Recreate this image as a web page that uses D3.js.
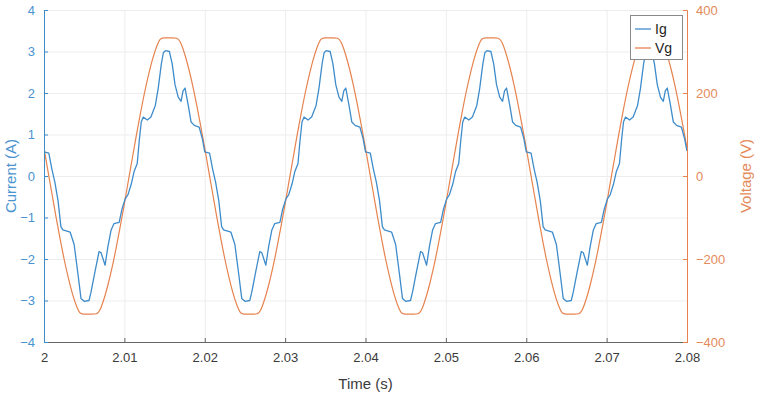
<!DOCTYPE html>
<html>
<head>
<meta charset="utf-8">
<script src="https://cdn.jsdelivr.net/npm/d3@7"></script>
<style>
	body { margin: 0; background: #fff; }
	svg { display: block; font-family: "Liberation Sans", Arial, sans-serif; }
	.grid line { stroke: #ededed; stroke-width: 1; }
</style>
</head>
<body>
<svg id="chart" width="761" height="400"></svg>
<script>
'use strict';

// time axis ticks (s)
const timeTicks = [2, 2.01, 2.02, 2.03, 2.04, 2.05, 2.06, 2.07, 2.08];
const currentTicks = [-4, -3, -2, -1, 0, 1, 2, 3, 4];
const voltageTicks = [-400, -200, 0, 200, 400];

// grid current Ig: time in ms after t = 2 s, value in A
const igTime = [
	0, 0.6, 1.0, 1.35, 1.75, 2.1, 2.35, 3.25, 3.75, 4.25, 4.6, 5.0, 5.6, 5.85, 6.35, 6.85, 7.1, 7.6, 7.95, 8.35,
	8.7, 9.35, 9.7, 10.1, 10.45, 10.85, 11.2, 11.6, 11.85, 12.1, 12.35, 12.85, 13.3, 13.85, 14.2, 14.6, 14.85, 15.1, 15.6, 15.95,
	16.3, 16.7, 17.05, 17.3, 17.55, 17.95, 18.3, 18.7, 19.3, 19.7,
	20, 20.6, 21.0, 21.35, 21.75, 22.1, 22.35, 23.25, 23.75, 24.25, 24.6, 25.0, 25.6, 25.85, 26.35, 26.85, 27.1, 27.6, 27.95, 28.35,
	28.7, 29.35, 29.7, 30.1, 30.45, 30.85, 31.2, 31.6, 31.85, 32.1, 32.35, 32.85, 33.3, 33.85, 34.2, 34.6, 34.85, 35.1, 35.6, 35.95,
	36.3, 36.7, 37.05, 37.3, 37.55, 37.95, 38.3, 38.7, 39.3, 39.7,
	40, 40.6, 41.0, 41.35, 41.75, 42.1, 42.35, 43.25, 43.75, 44.25, 44.6, 45.0, 45.6, 45.85, 46.35, 46.85, 47.1, 47.6, 47.95, 48.35,
	48.7, 49.35, 49.7, 50.1, 50.45, 50.85, 51.2, 51.6, 51.85, 52.1, 52.35, 52.85, 53.3, 53.85, 54.2, 54.6, 54.85, 55.1, 55.6, 55.95,
	56.3, 56.7, 57.05, 57.3, 57.55, 57.95, 58.3, 58.7, 59.3, 59.7,
	60, 60.6, 61.0, 61.35, 61.75, 62.1, 62.35, 63.25, 63.75, 64.25, 64.6, 65.0, 65.6, 65.85, 66.35, 66.85, 67.1, 67.6, 67.95, 68.35,
	68.7, 69.35, 69.7, 70.1, 70.45, 70.85, 71.2, 71.6, 71.85, 72.1, 72.35, 72.85, 73.3, 73.85, 74.2, 74.6, 74.85, 75.1, 75.6, 75.95,
	76.3, 76.7, 77.05, 77.3, 77.55, 77.95, 78.3, 78.7, 79.3, 79.7, 80
];
const igValue = [
	0.58, 0.55, 0.15, -0.15, -0.6, -1.22, -1.3, -1.35, -1.65, -2.4, -2.95, -3.02, -3.0, -2.8, -2.3, -1.82, -1.85, -2.15, -1.7, -1.3,
	-1.15, -1.12, -0.8, -0.55, -0.45, -0.2, 0.1, 0.3, 0.85, 1.3, 1.42, 1.35, 1.42, 1.7, 2.1, 2.7, 2.97, 3.02, 3.0, 2.7,
	2.2, 1.9, 1.8, 2.05, 2.12, 1.7, 1.3, 1.22, 1.18, 0.9,
	0.58, 0.55, 0.15, -0.15, -0.6, -1.22, -1.3, -1.35, -1.65, -2.4, -2.95, -3.02, -3.0, -2.8, -2.3, -1.82, -1.85, -2.15, -1.7, -1.3,
	-1.15, -1.12, -0.8, -0.55, -0.45, -0.2, 0.1, 0.3, 0.85, 1.3, 1.42, 1.35, 1.42, 1.7, 2.1, 2.7, 2.97, 3.02, 3.0, 2.7,
	2.2, 1.9, 1.8, 2.05, 2.12, 1.7, 1.3, 1.22, 1.18, 0.9,
	0.58, 0.55, 0.15, -0.15, -0.6, -1.22, -1.3, -1.35, -1.65, -2.4, -2.95, -3.02, -3.0, -2.8, -2.3, -1.82, -1.85, -2.15, -1.7, -1.3,
	-1.15, -1.12, -0.8, -0.55, -0.45, -0.2, 0.1, 0.3, 0.85, 1.3, 1.42, 1.35, 1.42, 1.7, 2.1, 2.7, 2.97, 3.02, 3.0, 2.7,
	2.2, 1.9, 1.8, 2.05, 2.12, 1.7, 1.3, 1.22, 1.18, 0.9,
	0.58, 0.55, 0.15, -0.15, -0.6, -1.22, -1.3, -1.35, -1.65, -2.4, -2.95, -3.02, -3.0, -2.8, -2.3, -1.82, -1.85, -2.15, -1.7, -1.3,
	-1.15, -1.12, -0.8, -0.55, -0.45, -0.2, 0.1, 0.3, 0.85, 1.3, 1.42, 1.35, 1.42, 1.7, 2.1, 2.7, 2.97, 3.02, 3.0, 2.7,
	2.2, 1.9, 1.8, 2.05, 2.12, 1.7, 1.3, 1.22, 1.18, 0.9, 0.6
];

// grid voltage Vg: one sample every 0.5 ms from t = 2 s, value in V
const vgStepMs = 0.5;
const vgValue = [
	67, 11, -44, -99, -151, -200, -243, -281, -311, -330, -333, -333, -333, -332, -321, -294, -259, -218, -171, -120,
	-67, -11, 44, 99, 151, 200, 243, 281, 311, 330, 333, 333, 333, 332, 321, 294, 259, 218, 171, 120,
	67, 11, -44, -99, -151, -200, -243, -281, -311, -330, -333, -333, -333, -332, -321, -294, -259, -218, -171, -120,
	-67, -11, 44, 99, 151, 200, 243, 281, 311, 330, 333, 333, 333, 332, 321, 294, 259, 218, 171, 120,
	67, 11, -44, -99, -151, -200, -243, -281, -311, -330, -333, -333, -333, -332, -321, -294, -259, -218, -171, -120,
	-67, -11, 44, 99, 151, 200, 243, 281, 311, 330, 333, 333, 333, 332, 321, 294, 259, 218, 171, 120,
	67, 11, -44, -99, -151, -200, -243, -281, -311, -330, -333, -333, -333, -332, -321, -294, -259, -218, -171, -120,
	-67, -11, 44, 99, 151, 200, 243, 281, 311, 330, 333, 333, 333, 332, 321, 294, 259, 218, 171, 120,
	67
];

const blue = "#3f8ccb";
const orange = "#e6834f";
const blueText = "#4a93cf";
const orangeText = "#e58a5a";

let svg = d3.select("#chart");
let plotL = 44, plotR = 687, plotT = 10, plotB = 342;

let x = d3.scaleLinear().domain([2, 2.08]).range([plotL, plotR]);
let yL = d3.scaleLinear().domain([-4, 4]).range([plotB, plotT]);
let yR = d3.scaleLinear().domain([-400, 400]).range([plotB, plotT]);

// grid
let grid = svg.append("g").attr("class", "grid");
grid.selectAll(".gx").data(timeTicks).enter().append("line")
	.attr("x1", d => x(d) + 0.5).attr("x2", d => x(d) + 0.5)
	.attr("y1", plotT).attr("y2", plotB);
grid.selectAll(".gy").data(currentTicks).enter().append("line")
	.attr("x1", plotL).attr("x2", plotR)
	.attr("y1", d => yL(d) + 0.5).attr("y2", d => yL(d) + 0.5);

svg.append("clipPath").attr("id", "plot-clip")
	.append("rect").attr("x", plotL).attr("y", plotT)
	.attr("width", plotR - plotL).attr("height", plotB - plotT);

let plot = svg.append("g").attr("clip-path", "url(#plot-clip)");

let igData = igTime.map((t, i) => ({ t: 2 + t / 1000, v: igValue[i] }));
let vgData = vgValue.map((v, i) => ({ t: 2 + i * vgStepMs / 1000, v: v }));

plot.append("path")
	.datum(vgData)
	.attr("fill", "none")
	.attr("stroke", orange)
	.attr("stroke-width", 1.2)
	.attr("d", d3.line().curve(d3.curveMonotoneX).x(d => x(d.t)).y(d => yR(d.v)));

plot.append("path")
	.datum(igData)
	.attr("fill", "none")
	.attr("stroke", blue)
	.attr("stroke-width", 1.3)
	.attr("stroke-linejoin", "round")
	.attr("d", d3.line().x(d => x(d.t)).y(d => yL(d.v)));

// axes (ticks point inward like MATLAB)
let xAxis = svg.append("g")
	.attr("transform", "translate(0," + plotB + ")")
	.call(d3.axisBottom(x).tickValues(timeTicks).tickSize(-4).tickPadding(11)
		.tickFormat(d => String(+d.toFixed(2))));
xAxis.select(".domain").attr("stroke", "#666");
xAxis.selectAll(".tick line").attr("stroke", "#666");
xAxis.selectAll("text").attr("fill", "#3a3a3a").attr("font-size", 13);

let yAxisL = svg.append("g")
	.attr("transform", "translate(" + plotL + ",0)")
	.call(d3.axisLeft(yL).tickValues(currentTicks).tickSize(-4).tickPadding(9));
yAxisL.select(".domain").attr("stroke", blue);
yAxisL.selectAll(".tick line").attr("stroke", blue);
yAxisL.selectAll("text").attr("fill", blueText).attr("font-size", 13);

let yAxisR = svg.append("g")
	.attr("transform", "translate(" + plotR + ",0)")
	.call(d3.axisRight(yR).tickValues(voltageTicks).tickSize(-4).tickPadding(9));
yAxisR.select(".domain").attr("stroke", orange);
yAxisR.selectAll(".tick line").attr("stroke", orange);
yAxisR.selectAll("text").attr("fill", orangeText).attr("font-size", 13);

svg.selectAll(".domain").attr("stroke-width", 1);

// axis titles
svg.append("text")
	.attr("x", (plotL + plotR) / 2).attr("y", 389)
	.attr("text-anchor", "middle").attr("fill", "#3a3a3a").attr("font-size", 15)
	.text("Time (s)");

svg.append("text")
	.attr("transform", "translate(16," + ((plotT + plotB) / 2) + ") rotate(-90)")
	.attr("text-anchor", "middle").attr("fill", blueText).attr("font-size", 15)
	.text("Current (A)");

svg.append("text")
	.attr("transform", "translate(751," + ((plotT + plotB) / 2) + ") rotate(-90)")
	.attr("text-anchor", "middle").attr("fill", orangeText).attr("font-size", 15)
	.text("Voltage (V)");

// legend
let legend = svg.append("g").attr("transform", "translate(630,15)");
legend.append("rect")
	.attr("x", 0.5).attr("y", 0.5).attr("width", 52).attr("height", 44)
	.attr("fill", "#fff").attr("stroke", "#8a8a8a");
let items = [{ name: "Ig", color: blue }, { name: "Vg", color: orange }];
let row = legend.selectAll(".item").data(items).enter().append("g")
	.attr("transform", (d, i) => "translate(0," + (14 + i * 19) + ")");
row.append("line")
	.attr("x1", 5).attr("x2", 21).attr("y1", 0).attr("y2", 0)
	.attr("stroke", d => d.color).attr("stroke-width", 1.3);
row.append("text")
	.attr("x", 25).attr("y", 5).attr("font-size", 14).attr("fill", "#222")
	.text(d => d.name);
</script>
</body>
</html>
